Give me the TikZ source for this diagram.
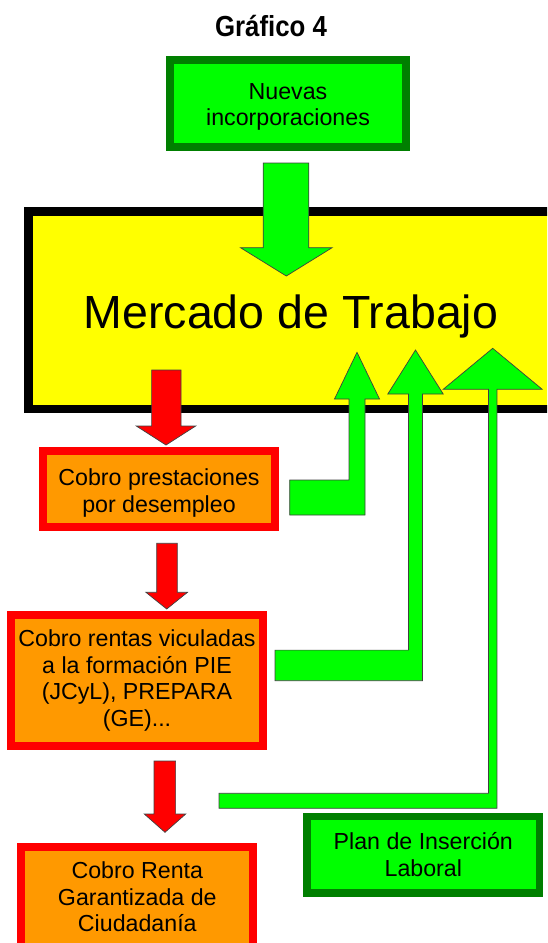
\documentclass[tikz,border=0pt]{standalone}
\usepackage{fontspec}
\setmainfont{Liberation Sans}
\usetikzlibrary{calc}
\definecolor{neongreen}{HTML}{00FF00}
\definecolor{darkgreen}{HTML}{007F00}
\definecolor{orangefill}{HTML}{FF9900}
\definecolor{marketyellow}{HTML}{FFFF00}
\definecolor{boxred}{HTML}{FF0000}
\newcommand{\boxfont}{\fontsize{23.2}{26.5}\selectfont}
% block arrow pointing down: style, from, to, half shaft, half head, head length
\newcommand{\downblock}[6]{%
  \filldraw[#1] let \p1=(#2), \p2=(#3) in
    (\x1-#4,\y1) -- (\x1+#4,\y1) -- (\x1+#4,\y2+#6) -- (\x2+#5,\y2+#6)
    -- (\x2,\y2) -- (\x2-#5,\y2+#6) -- (\x1-#4,\y2+#6) -- cycle;}
% bent block arrow, going right and then up: style, from, to, half shaft, half bar, half head, head length
\newcommand{\bentblock}[7]{%
  \filldraw[#1] let \p1=(#2), \p2=(#3) in
    (\x1,\y1-#5) -- (\x2+#4,\y1-#5) -- (\x2+#4,\y2-#7) -- (\x2+#6,\y2-#7)
    -- (\x2,\y2) -- (\x2-#6,\y2-#7) -- (\x2-#4,\y2-#7) -- (\x2-#4,\y1+#5)
    -- (\x1,\y1+#5) -- cycle;}

\begin{document}
\begin{tikzpicture}[%
    x=1pt, y=-1pt,
    greenbox/.style={
      rectangle,
      draw=darkgreen,
      fill=neongreen,
      line width=8pt,
      align=center,
      font=\boxfont
    },
    redbox/.style={
      rectangle,
      draw=boxred,
      fill=orangefill,
      line width=8pt,
      align=center,
      font=\boxfont
    },
    greenarrow/.style={fill=neongreen, draw=black!75, line width=0.7pt},
    redarrow/.style={fill=boxred, draw=black!75, line width=0.7pt}
    ]
    \useasboundingbox (0,0) rectangle (547,943);
    \clip (0,0) rectangle (547,943);

    \node[font=\bfseries\fontsize{29}{32}\selectfont, anchor=base] (title) at (271,36) {\scalebox{0.89}[1]{Gráfico 4}};

    \node[greenbox, minimum width=236pt, minimum height=87pt] (nuevas) at (288,103.5) {\rule{0pt}{23pt}Nuevas\\incorporaciones};
    \node[draw=black, fill=marketyellow, line width=8.5pt, minimum width=580pt, minimum height=197.6pt, anchor=north west] (merc) at (24,207.3) {};
    \node[font=\fontsize{46.5}{50}\selectfont, anchor=base] (mtext) at (291,328) {Mercado de Trabajo};

    \node[redbox, minimum width=232pt, minimum height=75.7pt] (prest) at (159,489.2) {\rule{0pt}{24.4pt}Cobro prestaciones\\por desempleo};
    \node[redbox, minimum width=251.4pt, minimum height=131pt] (rentas) at (137,680.5) {Cobro rentas viculadas\\a la formación PIE\\(JCyL), PREPARA\\(GE)...};
    \node[redbox, minimum width=232pt, minimum height=100.3pt] (rgc) at (137.3,896.8) {Cobro Renta\\Garantizada de\\Ciudadanía};
    \node[greenbox, line width=7.5pt, minimum width=232.6pt, minimum height=76.5pt] (plan) at (423.3,854.7) {Plan de Inserción\\Laboral};

    % arrow ends
    \coordinate (gin) at (286,163);
    \coordinate (gout) at (286.3,276);
    \coordinate (r1in) at (166.3,370);
    \coordinate (r1out) at (166,445);
    \coordinate (r2in) at (167,543.3);
    \coordinate (r2out) at (166.7,609);
    \coordinate (r3in) at (164.8,761);
    \coordinate (r3out) at (165,832.3);
    \coordinate (b1in) at (289.7,497.5);
    \coordinate (b1out) at (357,352.3);
    \coordinate (b2in) at (275,665.4);
    \coordinate (b2out) at (415.5,350);
    \coordinate (b3in) at (219,800.8);
    \coordinate (b3out) at (492.7,348.3);

    \downblock{greenarrow}{gin}{gout}{22.8pt}{45.8pt}{28.3pt}
    \downblock{redarrow}{r1in}{r1out}{14.7pt}{29.7pt}{19pt}
    \downblock{redarrow}{r2in}{r2out}{10.3pt}{20.8pt}{16.7pt}
    \downblock{redarrow}{r3in}{r3out}{10.8pt}{20.7pt}{18.3pt}

    \bentblock{greenarrow}{b1in}{b1out}{8pt}{17.5pt}{22.5pt}{46.7pt}
    \bentblock{greenarrow}{b2in}{b2out}{7pt}{15.3pt}{27.7pt}{44pt}
    \bentblock{greenarrow}{b3in}{b3out}{4.2pt}{7.5pt}{49.5pt}{41pt}
  \end{tikzpicture}
\end{document}
